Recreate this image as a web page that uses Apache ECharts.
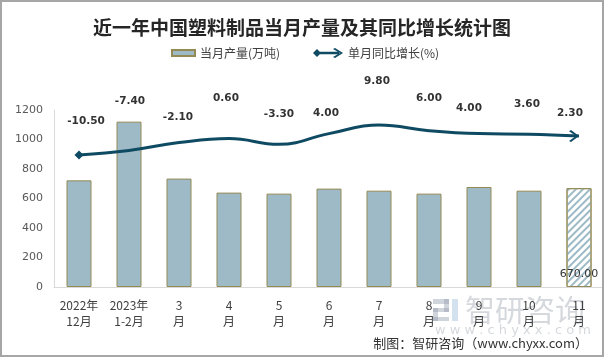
<!DOCTYPE html>
<html><head><meta charset="utf-8">
<script src="https://cdn.jsdelivr.net/npm/echarts@6/dist/echarts.min.js"></script>
<style>html,body{margin:0;padding:0;background:#fff}#c{width:604px;height:357px}</style>
</head><body><div id="c"></div>
<script>
// ---- data ----
const categories = ['2022年\n12月','2023年\n1-2月','3\n月','4\n月','5\n月','6\n月','7\n月','8\n月','9\n月','10\n月','11\n月'];
const output = [723,1121,735,640,633,667,653,633,678,653,670];     // 当月产量(万吨)
const growth = [-10.5,-7.4,-2.1,0.6,-3.3,4.0,9.8,6.0,4.0,3.6,2.3]; // 单月同比增长(%)
const yTicks = [0,200,400,600,800,1000,1200];

// ---- style helpers (label placement, not data) ----
const labelShift = [[7,-34],[1,-49],[-1,-25],[-3,-40],[0,-30],[-3,-20],[-2,-44],[0,-32],[-10,-25],[-2,-30],[-4,-23]];
const BAR = '#9DBAC6', BORDER = '#948A54', LINE = '#0F4A63';
const ARROW = 'path://M0,1 L2,0 L10,5 L2,10 L0,9 L7,5 Z';
const LEGEND_ARROW = 'path://M0,5 L4,1 L8,5 L4,9 Z M6,3.8 L26,3.8 L26,6.2 L6,6.2 Z M20,1 L22,0 L30,5 L22,10 L20,9 L27,5 Z';

const chart = echarts.init(document.getElementById('c'), null, {renderer:'canvas'});

const barData = output.map((v,i)=>{
  if (i === output.length-1) {
    return {value:v, itemStyle:{color:'#ffffff', decal:{symbol:'rect', symbolSize:1, color:BAR, dashArrayX:[1,0], dashArrayY:[2,3], rotation:-Math.PI/4}},
      label:{show:true, position:'insideBottom', distance:7, color:'#333', fontSize:11, fontFamily:'DejaVu Sans', formatter:(p)=>p.value.toFixed(2)}};
  }
  return v;
});

const lineData = growth.map((v,i)=>{
  const item = {value:v, label:{offset:labelShift[i]}};
  if (i === 0) { item.symbol = 'diamond'; item.symbolSize = 9; }
  if (i === growth.length-1) { item.symbol = ARROW; item.symbolSize = [10,12]; item.symbolOffset = [-5,0]; }
  return item;
});

chart.setOption({
  animation:false,
  backgroundColor:'#ffffff',
  title:{text:'近一年中国塑料制品当月产量及其同比增长统计图', left:'center', top:13,
    textStyle:{fontFamily:'Noto Sans CJK SC', fontWeight:'bold', fontSize:19, color:'#262626'}},
  legend:[
    {data:['当月产量(万吨)'], left:171, top:47, padding:0, icon:'rect', itemWidth:23, itemHeight:6, itemGap:0,
      textStyle:{fontFamily:'Noto Sans CJK SC', fontSize:12, color:'#404040'}},
    {data:[{name:'单月同比增长(%)', icon:LEGEND_ARROW}], left:313, top:47, padding:0, itemWidth:30, itemHeight:10, itemGap:0,
      textStyle:{fontFamily:'Noto Sans CJK SC', fontSize:12, color:'#404040'}}
  ],
  grid:{left:54, right:0, top:110, bottom:70},
  xAxis:{type:'category', data:categories,
    axisLine:{show:true, lineStyle:{color:'#d9d9d9', width:1}}, axisTick:{show:false},
    axisLabel:{interval:0, margin:10, fontFamily:'Noto Sans CJK SC', fontSize:12, color:'#404040', lineHeight:16.5}},
  yAxis:[
    {type:'value', min:yTicks[0], max:yTicks[yTicks.length-1], interval:yTicks[1]-yTicks[0],
      axisLine:{show:true, lineStyle:{color:'#d9d9d9'}}, axisTick:{show:false}, splitLine:{show:false},
      axisLabel:{margin:11, fontFamily:'DejaVu Sans', fontSize:11, color:'#595959', formatter:(v)=>String(v)}},
    {type:'value', min:-100, max:20, show:false, splitLine:{show:false}}
  ],
  series:[
    {name:'当月产量(万吨)', type:'bar', data:barData, barWidth:25,
      itemStyle:{color:BAR, borderColor:BORDER, borderWidth:1}},
    {name:'单月同比增长(%)', type:'line', yAxisIndex:1, data:lineData, smooth:0.45,
      symbol:'circle', symbolSize:0, showSymbol:true, color:LINE, itemStyle:{color:LINE},
      lineStyle:{color:LINE, width:3},
      label:{show:true, position:'inside', fontFamily:'DejaVu Sans', fontWeight:'bold', fontSize:10.5, color:'#333',
        formatter:(p)=>p.value.toFixed(2)}, z:3}
  ],
  graphic:[
    {type:'rect', shape:{x:1, y:1, width:602, height:355}, style:{fill:'none', stroke:'#a6a6a6', lineWidth:2}, silent:true, z:10},
    {type:'group', z:0, silent:true, children:[
      {type:'rect', shape:{x:433,y:299,width:16,height:5}, style:{fill:'rgba(150,160,175,0.45)'}},
      {type:'rect', shape:{x:444,y:299,width:5,height:13}, style:{fill:'rgba(150,160,175,0.45)'}},
      {type:'rect', shape:{x:433,y:308,width:16,height:4}, style:{fill:'rgba(150,160,175,0.45)'}},
      {type:'rect', shape:{x:433,y:308,width:5,height:13}, style:{fill:'rgba(150,160,175,0.45)'}},
      {type:'rect', shape:{x:433,y:317,width:16,height:4}, style:{fill:'rgba(150,160,175,0.45)'}},
      {type:'rect', shape:{x:452,y:299,width:6,height:22}, style:{fill:'rgba(160,190,220,0.45)'}},
      {type:'text', style:{x:465, y:310, text:'智研咨询', fontFamily:'Noto Sans CJK SC', fontSize:30, fill:'rgba(150,158,168,0.4)', verticalAlign:'middle'}},
      {type:'text', style:{x:435, y:331, text:'w w w . c h y x x . c o m', fontFamily:'DejaVu Sans', fontSize:13, fill:'rgba(150,158,168,0.4)', verticalAlign:'middle'}}
    ]},
    {type:'text', z:5, style:{x:588, y:343, text:'制图：智研咨询（www.chyxx.com）', align:'right', verticalAlign:'middle',
      fontFamily:'Noto Sans CJK SC', fontSize:13, fill:'#333'}}
  ]
});
</script></body></html>
